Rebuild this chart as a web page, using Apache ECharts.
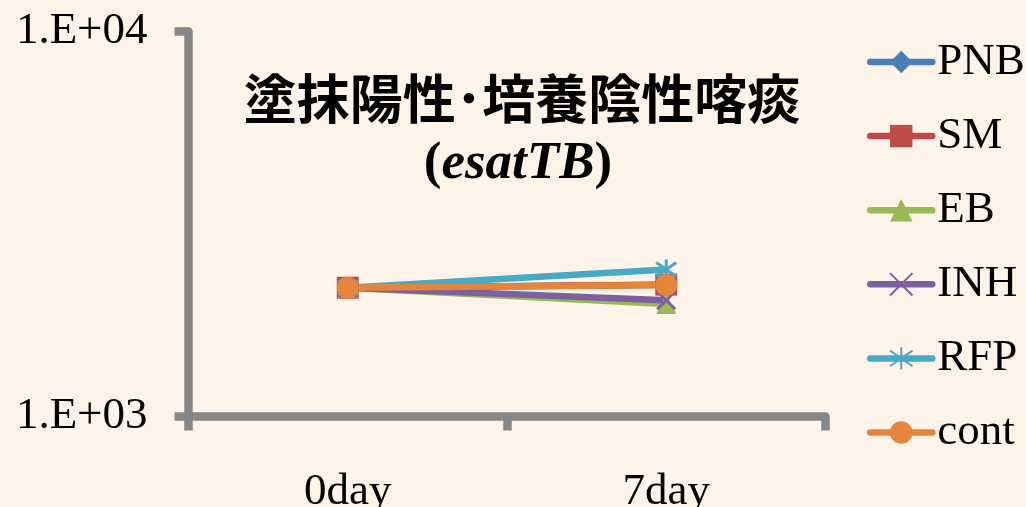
<!DOCTYPE html>
<html>
<head>
<meta charset="utf-8">
<script src="https://cdn.jsdelivr.net/npm/echarts@6/dist/echarts.min.js"></script>
<style>
html,body{margin:0;padding:0;background:#FEF3E8;}
#c{width:1026px;height:507px;}
</style>
</head>
<body>
<div id="c"></div>
<script>
var categories = ['0day', '7day'];
var seriesNames = ['PNB', 'SM', 'EB', 'INH', 'RFP', 'cont'];
var PNB  = [2160, 2200];
var SM   = [2160, 2200];
var EB   = [2160, 1960];
var INH  = [2160, 2005];
var RFP  = [2160, 2410];
var cont = [2160, 2195];
var yTicks = [1000, 10000];

var colors = ['#4A7EBB', '#BE4B48', '#98B954', '#7D60A0', '#46AAC5', '#E5853B'];
var symbols = [
  'diamond',
  'rect',
  'triangle',
  'path://M0,0L10,10M10,0L0,10',
  'path://M5,0L5,10M0,1.5L10,8.5M10,1.5L0,8.5',
  'circle'
];
var sizes = [20, 22, 20, 18, 20, 22];
var values = [PNB, SM, EB, INH, RFP, cont];

var series = seriesNames.map(function (n, i) {
  var stroke = (i === 3 || i === 4);
  return {
    name: n,
    type: 'line',
    data: values[i],
    symbol: symbols[i],
    symbolSize: sizes[i],
    showAllSymbol: true,
    lineStyle: { color: colors[i], width: 6.5, cap: 'round' },
    itemStyle: stroke ? { color: colors[i], borderColor: colors[i], borderWidth: 3 } : { color: colors[i] },
    emphasis: { disabled: true },
    animation: false
  };
});

var chart = echarts.init(document.getElementById('c'));
chart.setOption({
  backgroundColor: '#FEF3E8',
  animation: false,
  title: [
    {
      text: '塗抹陽性･培養陰性喀痰',
      left: 517, top: 67, textAlign: 'center',
      textStyle: { fontFamily: 'Noto Sans CJK JP', fontWeight: 'bold', fontSize: 53, color: '#000' }
    },
    {
      text: '{p|(}{i|esatTB}{p|)}',
      left: 513, top: 133, textAlign: 'center',
      textStyle: {
        rich: {
          p: { fontFamily: 'Liberation Serif', fontWeight: 'bold', fontSize: 53, color: '#000' },
          i: { fontFamily: 'Liberation Serif', fontWeight: 'bold', fontStyle: 'italic', fontSize: 53, color: '#000' }
        }
      }
    }
  ],
  legend: {
    orient: 'vertical',
    left: 867,
    top: 39,
    padding: 0,
    itemWidth: 62,
    itemHeight: 28,
    itemGap: 28.1,
    data: seriesNames,
    lineStyle: { width: 6.5, cap: 'round' },
    textStyle: { fontFamily: 'Liberation Serif', fontSize: 45, color: '#000', lineHeight: 46 }
  },
  grid: { left: 188.5, right: 200.5, top: 31.5, height: 385, containLabel: false, outerBoundsMode: 'none' },
  xAxis: {
    type: 'category',
    data: categories,
    boundaryGap: true,
    axisLine: { lineStyle: { color: '#878787', width: 8.5 } },
    axisTick: { show: true, length: 14, lineStyle: { color: '#878787', width: 8.5 } },
    axisLabel: { margin: 53, fontFamily: 'Liberation Serif', fontSize: 45, color: '#000' },
    splitLine: { show: false }
  },
  yAxis: {
    type: 'log',
    logBase: 10,
    min: yTicks[0],
    max: yTicks[yTicks.length - 1],
    axisLine: { show: true, lineStyle: { color: '#878787', width: 8.5 } },
    axisTick: { show: true, length: 14, lineStyle: { color: '#878787', width: 8.5 } },
    axisLabel: {
      margin: 41,
      fontFamily: 'Liberation Serif', fontSize: 45, color: '#000',
      formatter: function (v) { return '1.E+0' + Math.round(Math.log10(v)); }
    },
    splitLine: { show: false }
  },
  series: series
});
</script>
</body>
</html>
